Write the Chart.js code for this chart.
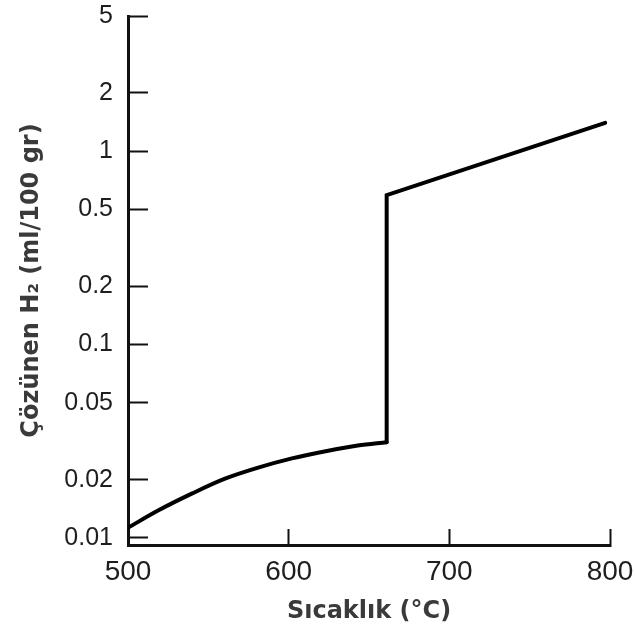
<!DOCTYPE html>
<html>
<head>
<meta charset="utf-8">
<script src="https://cdn.jsdelivr.net/npm/chart.js@4.4.1/dist/chart.umd.min.js"></script>
<style>
    html, body { margin: 0; padding: 0; background: #fff; }
    #chart { display: block; }
</style>
</head>
<body>
<canvas id="chart" width="635" height="628"></canvas>
<script>
"use strict";

// Temperature (°C) and dissolved H2 (ml/100 gr).
// Solid-phase branch (up to the melting jump) and liquid branch.
const solidTemps = [500, 519, 540, 560, 581, 602, 623, 643, 661];
const solidH2 = [0.0113, 0.0139, 0.0170, 0.0202, 0.0231, 0.0258, 0.0281, 0.0301, 0.0313];
const liquidTemps = [661, 661, 797];
const liquidH2 = [0.0313, 0.593, 1.40];

const xTicks = [500, 600, 700, 800];
const yTicks = [0.01, 0.02, 0.05, 0.1, 0.2, 0.5, 1, 2, 5];

const xTitle = 'Sıcaklık (°C)';
const yTitle = 'Çözünen H₂ (ml/100 gr)';

const FONT = "'Liberation Sans', Arial, Helvetica, sans-serif";
const TITLE_FONT = "'DejaVu Sans', 'Liberation Sans', Arial, sans-serif";

const toPoints = (xs, ys) => xs.map((t, i) => ({x: t, y: ys[i]}));

const lineStyle = {
    borderColor: '#000',
    borderWidth: 4,
    borderJoinStyle: 'miter',
    borderCapStyle: 'round',
    pointRadius: 0,
    fill: false
};

new Chart(document.getElementById('chart'), {
    type: 'line',
    data: {
        datasets: [
            Object.assign({data: toPoints(solidTemps, solidH2), cubicInterpolationMode: 'monotone'}, lineStyle),
            Object.assign({data: toPoints(liquidTemps, liquidH2), tension: 0}, lineStyle)
        ]
    },
    options: {
        responsive: false,
        animation: false,
        devicePixelRatio: 1,
        layout: {
            padding: {top: 16, right: 25, bottom: 0, left: 0}
        },
        plugins: {
            legend: {display: false},
            tooltip: {enabled: false}
        },
        scales: {
            x: {
                type: 'linear',
                min: xTicks[0],
                max: xTicks[xTicks.length - 1],
                afterBuildTicks: (scale) => {
                    scale.ticks = xTicks.map(v => ({value: v}));
                },
                afterFit: (scale) => {
                    // labels sit below inward ticks, so drop the extra side padding
                    scale.height = 83;
                    scale.paddingLeft = 0;
                    scale.paddingRight = 0;
                },
                grid: {
                    drawOnChartArea: false,
                    tickLength: -16,
                    tickWidth: 2,
                    tickColor: '#111'
                },
                border: {color: '#111', width: 3},
                ticks: {
                    color: '#1e1e1e',
                    padding: 26,
                    maxRotation: 0,
                    font: {family: FONT, size: 28}
                },
                title: {
                    display: true,
                    text: xTitle,
                    color: '#3a3a3a',
                    padding: {top: 0, bottom: 2},
                    font: {family: TITLE_FONT, size: 24, weight: 'bold'}
                }
            },
            y: {
                type: 'logarithmic',
                min: 0.0092,
                max: 5,
                afterBuildTicks: (scale) => {
                    scale.ticks = yTicks.map(v => ({value: v}));
                },
                afterFit: (scale) => {
                    scale.width = 128;
                    scale.paddingTop = 0;
                    scale.paddingBottom = 0;
                },
                grid: {
                    drawOnChartArea: false,
                    tickLength: -20,
                    tickWidth: 2,
                    tickColor: '#111'
                },
                border: {color: '#111', width: 3},
                ticks: {
                    color: '#1e1e1e',
                    padding: 35,
                    font: {family: FONT, size: 25},
                    callback: (value) => String(value)
                },
                title: {
                    display: true,
                    text: yTitle,
                    color: '#3a3a3a',
                    padding: {top: 17, bottom: 0},
                    font: {family: TITLE_FONT, size: 24, weight: 'bold'}
                }
            }
        }
    }
});
</script>
</body>
</html>
